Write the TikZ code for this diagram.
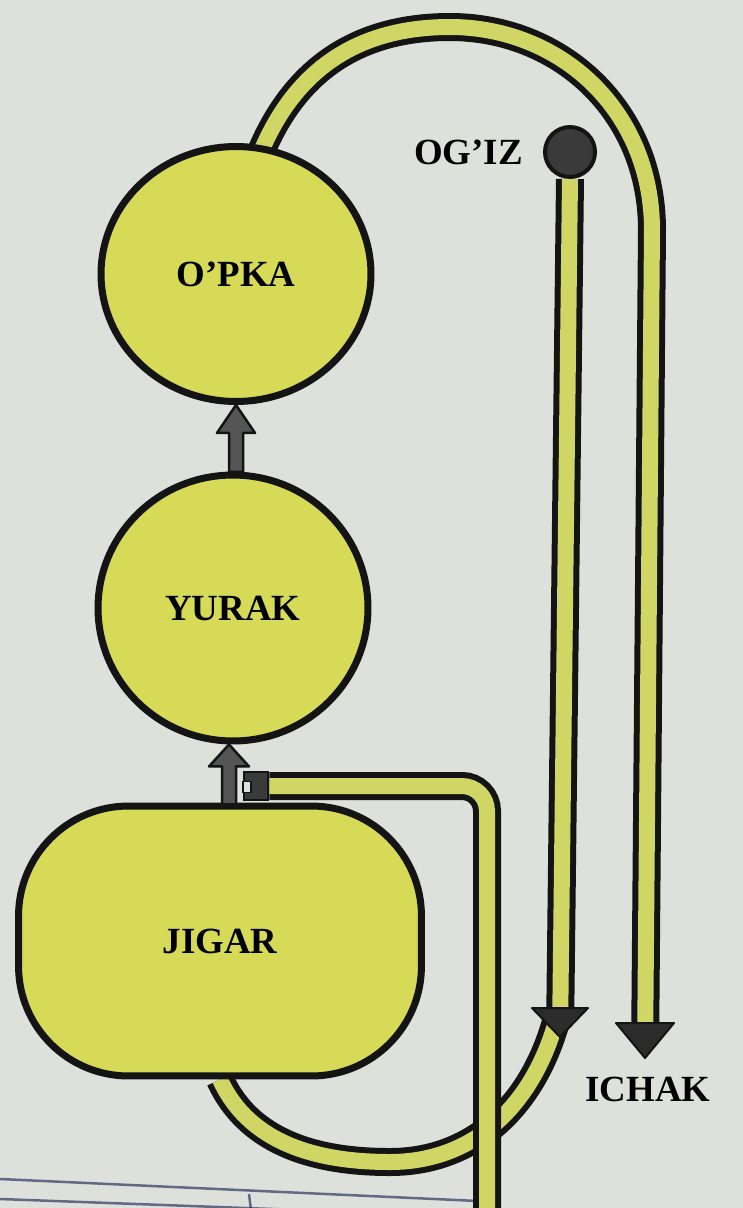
\documentclass[tikz,border=0pt]{standalone}
\usepackage{fontspec}
\setmainfont{Liberation Serif}
\usetikzlibrary{positioning, shapes.geometric, backgrounds}

\definecolor{paper}{RGB}{222,224,220}
\definecolor{organfill}{RGB}{214,218,86}
\definecolor{tubefill}{RGB}{208,214,100}
\definecolor{ink}{RGB}{20,20,20}
\definecolor{greyarr}{RGB}{85,85,85}
\definecolor{ballfill}{RGB}{58,58,58}
\definecolor{pen}{RGB}{45,55,95}

\begin{document}
\begin{tikzpicture}[x=0.02cm, y=-0.02cm,
    organ/.style={
        draw=ink, line width=0.14cm, fill=organfill, inner sep=0pt,
        font=\fontsize{21}{24}\selectfont\bfseries
    },
    lbl/.style={inner sep=0pt, font=\fontsize{21}{24}\selectfont\bfseries},
    tube/.style={draw=ink, line width=0.12cm, double=tubefill, double distance=0.32cm},
    tubehead/.style={fill=ink!90!white, draw=ink, line width=0.04cm, line join=round},
    garrow/.style={fill=greyarr, draw=ink, line width=0.05cm, line join=round},
    penline/.style={draw=pen, line width=0.05cm, opacity=0.7}
]
    \useasboundingbox (0,0) rectangle (743,1208);

    % organs
    \node[organ, ellipse, minimum width=5.4cm, minimum height=5.1cm]
        (opka) at (236,274) {O'PKA};
    \node[organ, ellipse, minimum width=5.4cm, minimum height=5.32cm]
        (yurak) at (233,608) {YURAK};
    \node[organ, rectangle, rounded corners=2.2cm,
          minimum width=8.06cm, minimum height=5.4cm]
        (jigar) at (220,941) {JIGAR};

    % mouth and intestine
    \node[circle, draw=ink, fill=ballfill, line width=0.08cm, minimum size=1cm, inner sep=0pt]
        (ogiz) at (570,152) {};
    \node[lbl, left=0.4cm of ogiz] (ogiz-l) {OG'IZ};
    \node[lbl] (ichak) at (648,1089) {ICHAK};

    \coordinate (ichak-in) at (645,1058);
    \coordinate (junction) at (560,1037);
    \coordinate (merge) at (557,1018);
    \coordinate (outlet) at (487,1215);

    % valve on the liver
    \node[rectangle, draw=ink, fill=ballfill, line width=0.04cm,
          minimum width=0.5cm, minimum height=0.56cm, inner sep=0pt]
        (valve) at (256,786) {};
    \node[rectangle, draw=ink, fill=paper, line width=0.03cm,
          minimum width=0.16cm, minimum height=0.22cm, inner sep=0pt]
        (valve-hole) at (247,787) {};

    \begin{scope}[on background layer]
        \fill[paper] (0,0) rectangle (743,1208);
        \draw[penline] (0,1179) -- (478,1201);
        \draw[penline] (0,1199) -- (300,1210);
        \draw[penline] (249,1194) -- (251,1210);
        % lung to intestine
        \draw[tube, shorten <=-0.3cm, shorten >=0.6cm]
            (opka.78) .. controls (292,72) and (355,27) .. (450,27)
            .. controls (560,27) and (652,110) .. (652,230) -- (ichak-in);
        % liver loop
        \draw[tube] (jigar.south) .. controls (250,1145) and (320,1162) .. (390,1162)
            .. controls (470,1162) and (532,1110) .. (merge);
    \end{scope}

    % mouth down to the junction
    \draw[tube, shorten >=0.5cm] (ogiz.south) -- (junction);
    % outlet from the valve
    \draw[tube, rounded corners=0.5cm] (valve.east) -| (outlet);

    \filldraw[tubehead] (junction) -- ++(-28,-29) -- ++(56,0) -- cycle;
    \filldraw[tubehead] (ichak-in) -- ++(-29,-35) -- ++(58,0) -- cycle;

    % grey arrows between organs
    \filldraw[garrow] (opka.south) -- ++(19,28) -- ++(-12,0) -- ++(0,39)
        -- ++(-14,0) -- ++(0,-39) -- ++(-12,0) -- cycle;
    \filldraw[garrow] (yurak.south) ++(-4,0) -- ++(20,22) -- ++(-13,0) -- ++(0,38)
        -- ++(-14,0) -- ++(0,-38) -- ++(-13,0) -- cycle;
\end{tikzpicture}
\end{document}
